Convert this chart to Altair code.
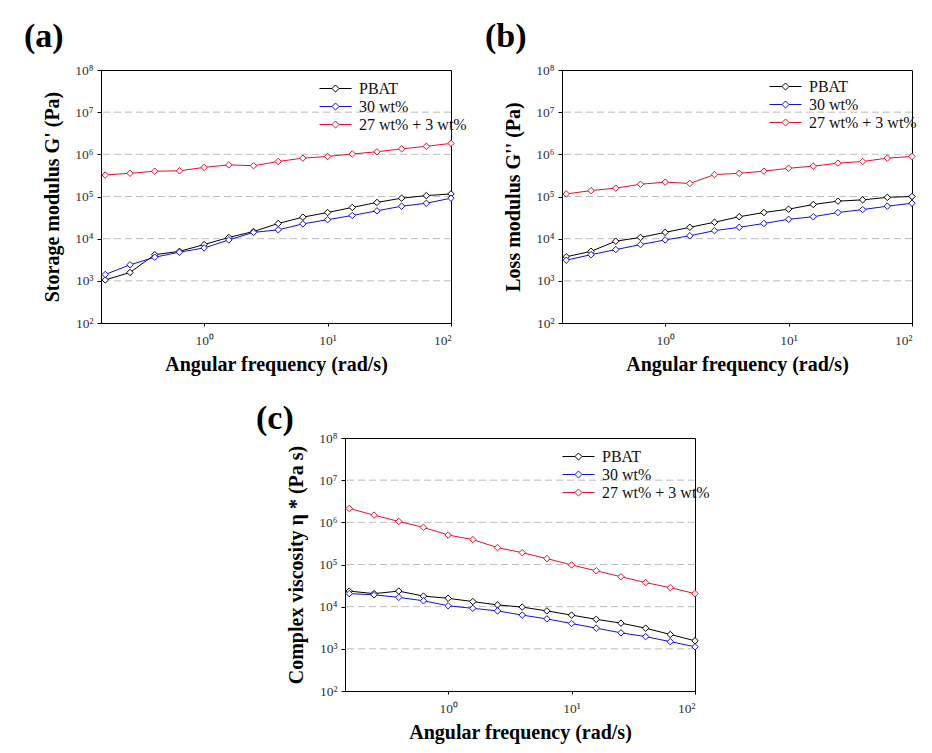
import altair as alt
import pandas as pd

# Angular frequency (rad/s)
freq = [0.158, 0.251, 0.398, 0.631, 1.0, 1.585, 2.512, 3.981, 6.31, 10.0,
        15.85, 25.12, 39.81, 63.1, 100.0]

series = ["PBAT", "30 wt%", "27 wt% + 3 wt%"]
colors = ["#000000", "#1010e0", "#e8102a"]

# (a) Storage modulus G' (Pa)
a_pbat = [1050, 1580, 4170, 5010, 7240, 10700, 14800, 22900, 32400, 41700,
          55000, 72400, 91200, 105000, 115000]
a_30 = [1410, 2400, 3630, 4790, 6030, 9330, 14100, 16200, 22400, 28200,
        35500, 45700, 58900, 69200, 91200]
a_27 = [324000, 355000, 398000, 407000, 490000, 562000, 537000, 676000, 813000,
        891000, 1020000, 1150000, 1350000, 1550000, 1820000]

# (b) Loss modulus G'' (Pa)
b_pbat = [3720, 5010, 8710, 10700, 14100, 18600, 24500, 33100, 41700, 50100,
          64600, 77600, 83200, 95500, 100000]
b_30 = [3090, 4170, 5500, 7240, 9330, 11700, 15500, 18600, 22900, 28800,
        33100, 41700, 49000, 58900, 69200]
b_27 = [115000, 138000, 158000, 195000, 219000, 204000, 331000, 355000, 398000,
        468000, 525000, 617000, 676000, 813000, 891000]

# (c) Complex viscosity (Pa s)
c_pbat = [23400, 20400, 23400, 17800, 15800, 13200, 11000, 9770, 7940, 6310,
          5010, 4070, 3090, 2190, 1550]
c_30 = [20400, 19100, 16600, 13800, 10500, 9120, 7940, 6310, 5130, 3980,
        3090, 2400, 1950, 1480, 1120]
c_27 = [2140000, 1480000, 1050000, 759000, 501000, 389000, 251000, 191000,
        138000, 97700, 70800, 51300, 37200, 28200, 20400]

x_ticks = [1, 10, 100]
y_ticks = [1e2, 1e3, 1e4, 1e5, 1e6, 1e7, 1e8]
grid_vals = [1e3, 1e4, 1e5, 1e6, 1e7]

FONT = "Liberation Serif"
SUP = "['⁰','¹','²','³','⁴','⁵','⁶','⁷','⁸'][round(log(datum.value)/LN10)]"
LEGEND_PATH = "M-2,0L-0.44,0M0.44,0L2,0M-0.44,0L0,-0.44L0.44,0L0,0.44Z"


def make_df(vals):
    rows = []
    for s, v in zip(series, vals):
        for f, y in zip(freq, v):
            rows.append({"freq": f, "value": y, "series": s})
    return pd.DataFrame(rows)


def panel(vals, ytitle, label, lx, ly, tdx, toff):
    df = make_df(vals)
    xscale = alt.Scale(type="log", domain=[0.146, 100], nice=False)
    yscale = alt.Scale(type="log", domain=[1e2, 1e8], nice=False)
    xaxis = alt.Axis(values=x_ticks, labelExpr="'10' + " + SUP, grid=False,
                     title="Angular frequency (rad/s)", tickSize=3,
                     labelPadding=7, titlePadding=8)
    yaxis = alt.Axis(values=y_ticks, labelExpr="'10' + " + SUP, grid=False,
                     title=ytitle, tickSize=4, labelPadding=4, titlePadding=12)
    x = alt.X("freq:Q", scale=xscale, axis=xaxis)
    y = alt.Y("value:Q", scale=yscale, axis=yaxis)
    leg = alt.Legend(orient="none", legendX=lx, legendY=ly,
                     title=None, symbolType=LEGEND_PATH,
                     symbolSize=256, symbolStrokeWidth=1,
                     symbolFillColor="white",
                     labelFont=FONT, labelFontSize=16,
                     labelColor="#111", labelOffset=15,
                     rowPadding=1, padding=0)
    stroke_scale = alt.Scale(domain=series, range=colors)
    grid = alt.Chart(pd.DataFrame({"g": grid_vals})).mark_rule(
        color="#bdbdbd", strokeWidth=1, strokeDash=[7, 4]
    ).encode(y=alt.Y("g:Q", scale=yscale, axis=yaxis))
    line = alt.Chart(df).mark_line(strokeWidth=1).encode(
        x=x, y=y,
        stroke=alt.Stroke("series:N", scale=stroke_scale, legend=leg),
        order=alt.Order("freq:Q"),
    )
    pts = alt.Chart(df).mark_point(shape="diamond", filled=True, fill="white",
                                   size=42, strokeWidth=1, opacity=1).encode(
        x=x, y=y,
        stroke=alt.Stroke("series:N", scale=stroke_scale, legend=leg),
    )
    return alt.layer(grid, line, pts).properties(
        width=350, height=253,
        title=alt.TitleParams(label, anchor="start", frame="group", dx=tdx,
                              offset=toff, fontSize=34, font=FONT,
                              fontWeight="bold"),
    )


pa = panel([a_pbat, a_30, a_27], "Storage modulus G' (Pa)", "(a)", 226, 10, -77, 9)
pb = panel([b_pbat, b_30, b_27], "Loss modulus G'' (Pa)", "(b)", 215, 8, -77, 9)
pc = panel([c_pbat, c_30, c_27], "Complex viscosity η * (Pa s)", "(c)", 225, 10, -89, -5)

spacer = alt.Chart(pd.DataFrame({"s": [0]})).mark_point(opacity=0).encode(
    x=alt.X("s:Q", axis=None), y=alt.Y("s:Q", axis=None)
).properties(width=244, height=10,
             view=alt.ViewBackground(stroke="transparent", strokeWidth=0))

top = alt.hconcat(pa, pb, spacing=111, bounds="flush").resolve_scale(
    stroke="independent").resolve_legend(stroke="independent")
bottom = alt.hconcat(spacer, pc, spacing=0, bounds="flush").resolve_scale(
    stroke="independent").resolve_legend(stroke="independent")

chart = alt.vconcat(top, bottom, spacing=26).resolve_scale(
    stroke="independent").resolve_legend(stroke="independent").properties(
    padding={"left": 15, "top": 11, "right": 5, "bottom": 5}
).configure(font=FONT).configure_view(
    stroke="black", strokeWidth=1
).configure_axis(
    labelFont=FONT, labelFontSize=13.5, labelColor="#333", titleFont=FONT,
    titleFontSize=20, titleFontWeight="bold", titleColor="black",
    domainColor="black", tickColor="black",
)

chart.save("out.html", embed_options={"renderer": "svg", "actions": False})
